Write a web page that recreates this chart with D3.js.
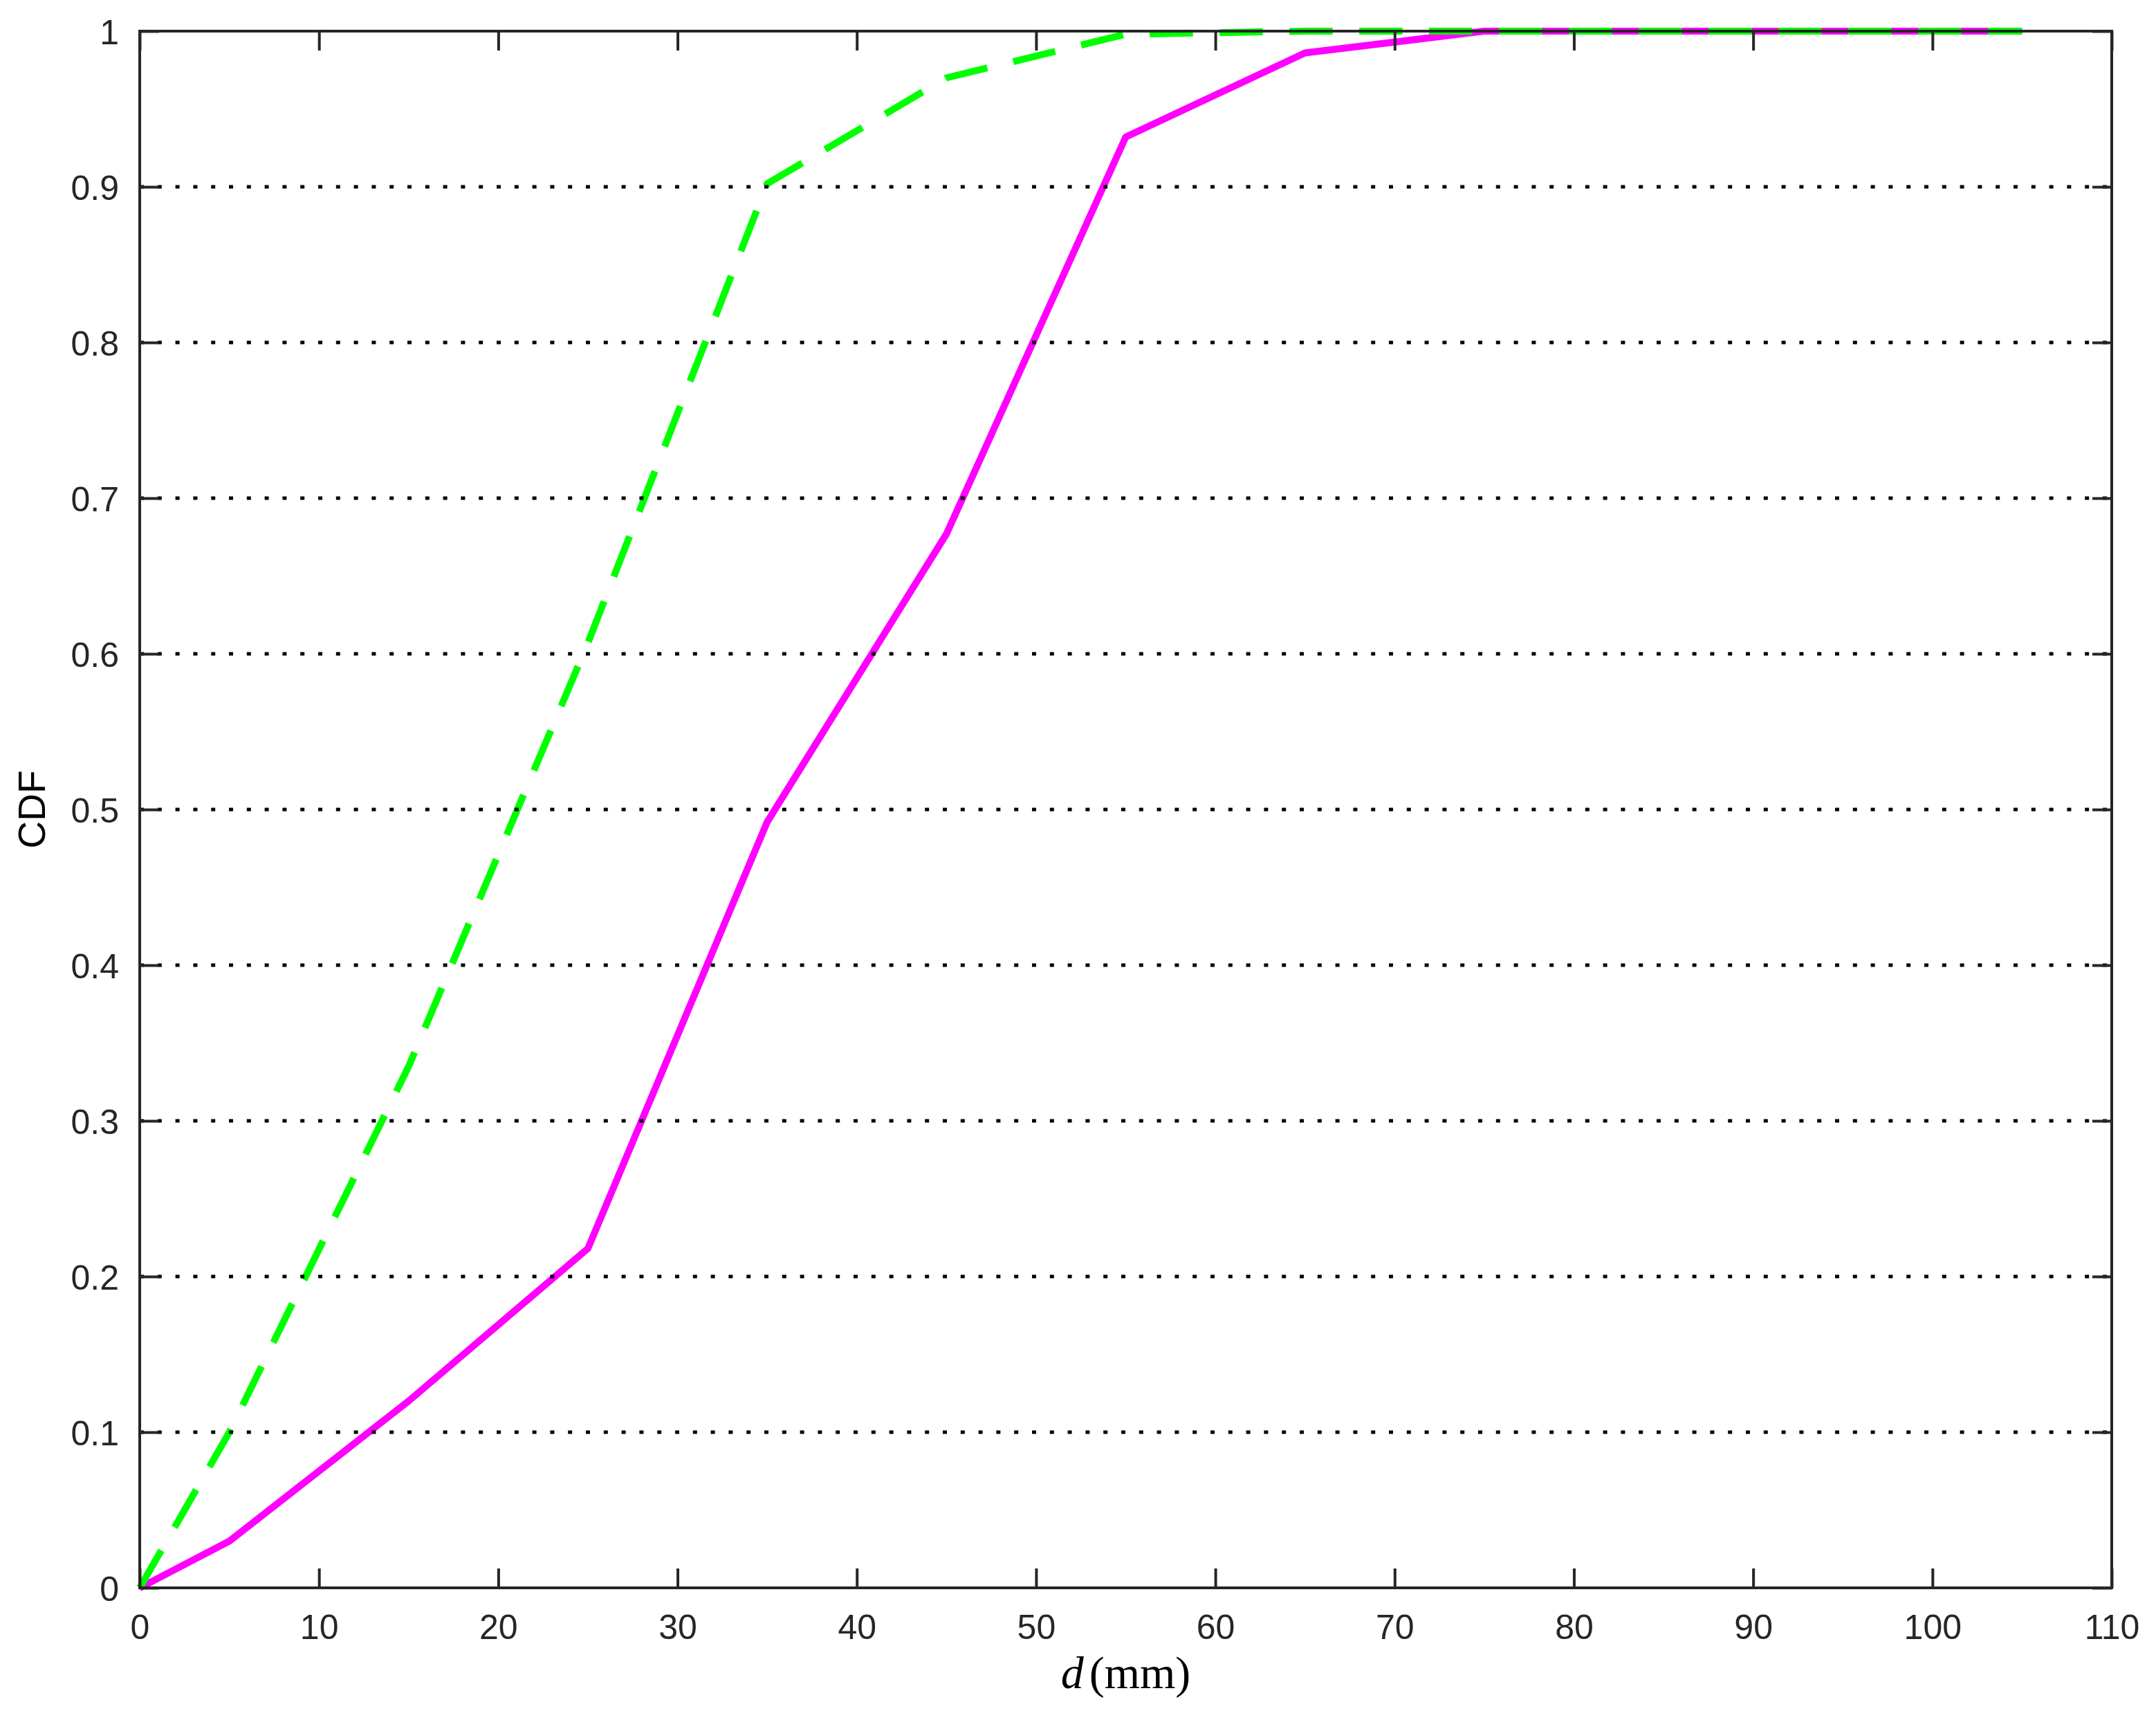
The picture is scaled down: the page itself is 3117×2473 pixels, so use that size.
<!DOCTYPE html>
<html>
<head>
<meta charset="utf-8">
<script src="https://cdn.jsdelivr.net/npm/d3@7"></script>
<style>
  body { margin: 0; background: #fff; }
  .tick text { font-family: "Liberation Sans", Arial, sans-serif; font-size: 50px; fill: #262626; }
</style>
</head>
<body>
<script>
// data
var dValues = [0, 5, 15, 25, 35, 45, 55, 65, 75, 85, 95, 105];
var cdfSolid = [0, 0.03, 0.12, 0.218, 0.492, 0.677, 0.932, 0.986, 1, 1, 1, 1];
var cdfDashed = [0, 0.1, 0.335, 0.607, 0.902, 0.97, 0.998, 1, 1, 1, 1, 1];
var xTicks = [0, 10, 20, 30, 40, 50, 60, 70, 80, 90, 100, 110];
var yTicks = [0, 0.1, 0.2, 0.3, 0.4, 0.5, 0.6, 0.7, 0.8, 0.9, 1];
var yTickLabels = ["0", "0.1", "0.2", "0.3", "0.4", "0.5", "0.6", "0.7", "0.8", "0.9", "1"];

var W = 3117, H = 2473;
var margin = {top: 45, right: 64, bottom: 178, left: 202},
	width = W - margin.left - margin.right,
	height = H - margin.top - margin.bottom;

var svg = d3.select("body").append("svg")
	.attr("width", W)
	.attr("height", H)
	.style("display", "block");

svg.append("rect").attr("width", W).attr("height", H).attr("fill", "#fff");

var g = svg.append("g")
	.attr("transform", "translate(" + margin.left + "," + margin.top + ")");

var x = d3.scaleLinear().domain([0, 110]).range([0, width]);
var y = d3.scaleLinear().domain([0, 1]).range([height, 0]);

// series
var line = d3.line()
	.x((d, i) => x(dValues[i]))
	.y((d) => y(d));

g.append("path")
	.datum(cdfSolid)
	.attr("fill", "none")
	.attr("stroke", "#ff00ff")
	.attr("stroke-width", 10)
	.attr("stroke-linejoin", "round")
	.attr("d", line);

g.append("path")
	.datum(cdfDashed)
	.attr("fill", "none")
	.attr("stroke", "#00ff00")
	.attr("stroke-width", 10)
	.attr("stroke-dasharray", "62.5 38.5")
	.attr("stroke-linejoin", "round")
	.attr("d", line);

// dotted horizontal grid
g.append("g")
	.selectAll("line")
	.data(yTicks.filter((d) => d > 0 && d < 1))
	.enter().append("line")
	.attr("x1", 0)
	.attr("x2", width)
	.attr("y1", (d) => y(d))
	.attr("y2", (d) => y(d))
	.attr("stroke", "#000")
	.attr("stroke-width", 5)
	.attr("stroke-dasharray", "6 19.8");

// axes, ticks pointing inward on all four sides
var tickLen = 28;
var xAxis = d3.axisBottom(x).tickValues(xTicks).tickSize(-tickLen).tickPadding(38).tickFormat(d3.format("d"));
var yAxis = d3.axisLeft(y).tickValues(yTicks).tickSize(-tickLen).tickPadding(30).tickFormat((d, i) => yTickLabels[i]);

var gx = g.append("g")
	.attr("transform", "translate(0," + height + ")")
	.call(xAxis);
var gy = g.append("g").call(yAxis);
gy.selectAll(".tick text").attr("dy", "0.36em");

g.append("g").call(d3.axisTop(x).tickValues(xTicks).tickSize(-tickLen).tickFormat(""));
g.append("g")
	.attr("transform", "translate(" + width + ",0)")
	.call(d3.axisRight(y).tickValues(yTicks).tickSize(-tickLen).tickFormat(""));

g.selectAll(".domain").remove();
g.selectAll(".tick line").attr("stroke", "#262626").attr("stroke-width", 4);

g.append("rect")
	.attr("width", width)
	.attr("height", height)
	.attr("fill", "none")
	.attr("stroke", "#262626")
	.attr("stroke-width", 4);

// labels
svg.append("text")
	.attr("transform", "translate(65," + (margin.top + height / 2) + ") rotate(-90)")
	.attr("text-anchor", "middle")
	.style("font-family", "'Liberation Sans', Arial, sans-serif")
	.style("font-size", "55px")
	.attr("fill", "#000")
	.text("CDF");

var xl = svg.append("text")
	.attr("x", margin.left + width / 2)
	.attr("y", 2440)
	.attr("text-anchor", "middle")
	.style("font-family", "'Liberation Serif', 'Times New Roman', serif")
	.style("font-size", "66px")
	.attr("fill", "#000");
xl.append("tspan").style("font-style", "italic").text("d");
xl.append("tspan").attr("dx", 8).text("(mm)");
</script>
</body>
</html>
